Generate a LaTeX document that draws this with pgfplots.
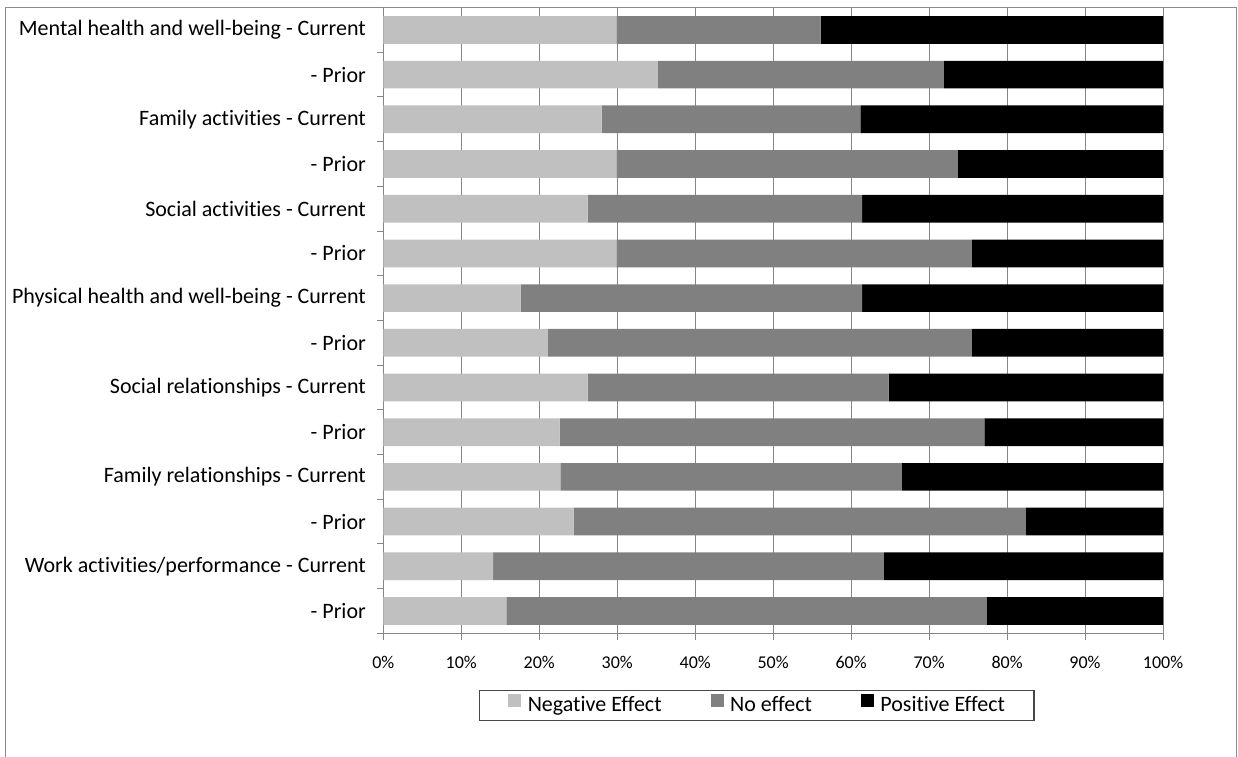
\documentclass[border=0pt]{standalone}
\usepackage{pgfplots}
\pgfplotsset{compat=1.18}
\usepackage{fontspec}
\setmainfont{Carlito}[Ligatures={NoCommon}]

\definecolor{negc}{RGB}{192,192,192}
\definecolor{noc}{RGB}{128,128,128}
\definecolor{posc}{RGB}{0,0,0}
\definecolor{linec}{RGB}{134,134,134}
\definecolor{framec}{RGB}{140,140,140}
\definecolor{legc}{RGB}{70,70,70}

% Share of respondents per outcome (percent), rows listed top to bottom
% y = row position (13 = top row)
\pgfplotstableread{
y  neg   none  pos
13 29.9  26.2  43.9
12 35.2  36.7  28.1
11 28.0  33.2  38.8
10 29.9  43.8  26.3
9  26.2  35.2  38.6
8  29.9  45.6  24.5
7  17.6  43.8  38.6
6  21.1  54.4  24.5
5  26.2  38.6  35.2
4  22.6  54.5  22.9
3  22.7  43.8  33.5
2  24.4  58.0  17.6
1  14.1  50.1  35.8
0  15.8  61.6  22.6
}\effects

\begin{document}
\begin{tikzpicture}
\useasboundingbox (0,0) rectangle (1238pt,-756pt);
\draw[framec, line width=1.6pt] (5.5pt,-7.5pt) rectangle (1236.5pt,-800pt);
\begin{axis}[
  at={(383.3pt,-633.3pt)}, anchor=south west,
  scale only axis,
  width=779.7pt, height=625.7pt,
  xbar stacked,
  bar width=27.7pt,
  xmin=0, xmax=100,
  ymin=-0.5, ymax=13.5,
  axis x line*=bottom,
  axis y line*=left,
  axis line style={draw=linec, line width=1pt, -},
  xtick={0,10,...,100},
  xticklabel={\pgfmathprintnumber{\tick}\%},
  xmajorgrids,
  grid style={draw=linec, line width=1pt},
  tick align=outside,
  major tick length=6.5pt,
  tick style={draw=linec, line width=1pt},
  ytick={-0.5,0.5,...,13.5},
  y tick label as interval,
  yticklabels={- Prior, Work activities/performance - Current,
    - Prior, Family relationships - Current,
    - Prior, Social relationships - Current,
    - Prior, Physical health and well-being - Current,
    - Prior, Social activities - Current,
    - Prior, Family activities - Current,
    - Prior, Mental health and well-being - Current},
  yticklabel style={font=\fontsize{22}{26}\selectfont, inner sep=0pt, xshift=-10.8pt},
  xticklabel style={font=\fontsize{18}{22}\selectfont, inner sep=0pt, anchor=base, yshift=-28.5pt,
    /pgf/number format/assume math mode=true},
  legend columns=3,
  legend style={
    at={(0.4788,-0.1151)}, anchor=center,
    draw=legc, line width=1.2pt,
    font=\fontsize{22}{26}\selectfont,
    inner xsep=29pt, inner ysep=4pt,
    nodes={inner sep=0pt, text height=15pt, text depth=5pt},
    /tikz/every odd column/.append style={column sep=6.5pt},
    /tikz/every even column/.append style={column sep=49pt},
  },
  legend image code/.code={\fill[#1, draw=none] (0pt,-1pt) rectangle (13pt,12pt);},
]
\addplot[fill=negc, draw=none] table[x=neg, y=y] {\effects};
\addplot[fill=noc, draw=none] table[x=none, y=y] {\effects};
\addplot[fill=posc, draw=none] table[x=pos, y=y] {\effects};
\legend{Negative Effect, No effect, Positive Effect}
\end{axis}
\end{tikzpicture}
\end{document}
